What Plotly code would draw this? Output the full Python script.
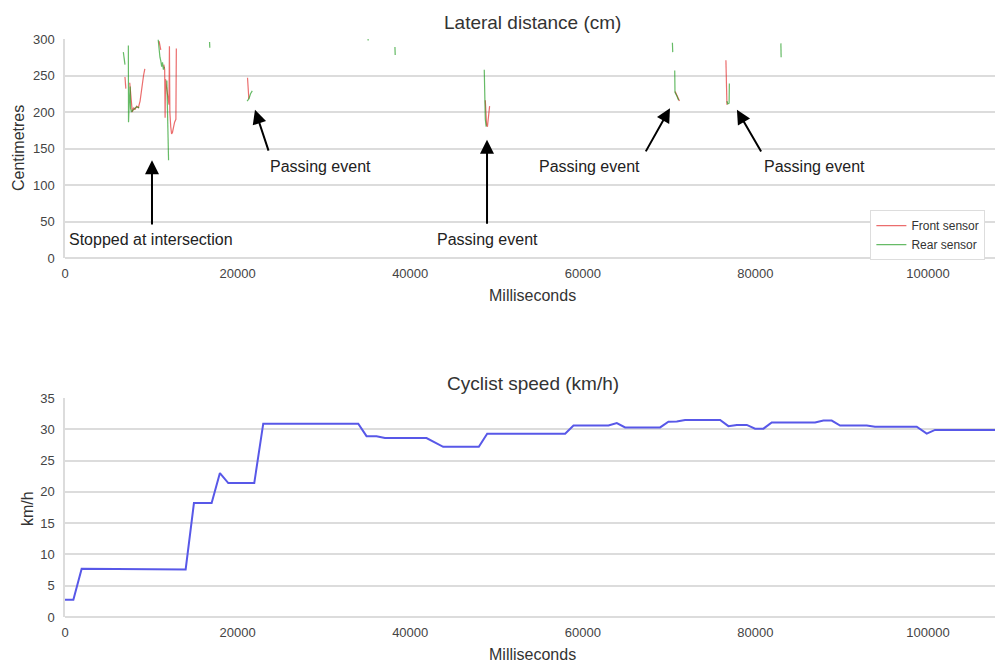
import plotly.graph_objects as go

# ---------------- data ----------------
# Lateral distance (cm) vs time (ms); None separates gaps between readings
front_ms = [6950, 7050, None,
            7500, 7650, 7800, 7950, 8100, 8300, 8500, 8700, 8900, 9100, 9250, None,
            10900, 11000, 11100, None,
            11450, 11550, 11600, 11650, 11750, 11900, 12050, 12100, 12150, 12250, 12350, 12450, 12550, 12700, 12850, 12900, None,
            21150, 21200, 21300, None,
            48700, 48850, 48950, 49100, 49200, None,
            70700, 71000, 71200, None,
            76580, 76620, 76700]
front_cm = [248, 232, None,
            240, 215, 200, 206, 203, 208, 206, 215, 235, 250, 259, None,
            297, 292, 285, None,
            265, 258, 192, 245, 235, 222, 210, 290, 200, 180, 170, 172, 178, 186, 190, 287, None,
            247, 228, 218, None,
            216, 182, 180, 205, 208, None,
            228, 220, 215, None,
            271, 211, 210]

rear_ms = [6760, 6950, None,
           7340, 7360, 7450, 7550, 7600, 7700, 7900, 8100, 8300, 8600, None,
           10800, 10900, 11000, 11100, 11200, 11300, 11400, 11500, None,
           11800, 11900, 12000, None,
           16750, 16780, None,
           21100, 21300, 21500, 21700, None,
           35100, 35150, None,
           38230, 38260, None,
           48580, 48620, 48700, 48800, None,
           70380, 70420, None,
           70650, 70680, 70900, 71100, None,
           76700, 76800, 76950, 76980, None,
           82950, 82980]
rear_cm = [282, 265, None,
           291, 186, 215, 235, 205, 200, 203, 205, 207, 206, None,
           299, 285, 275, 270, 262, 268, 258, 262, None,
           243, 190, 134, None,
           296, 288, None,
           215, 218, 225, 229, None,
           300, 298, None,
           289, 278, None,
           258, 215, 190, 180, None,
           295, 282, None,
           257, 227, 222, 216, None,
           215, 211, 212, 239, None,
           294, 275]

# Cyclist speed (km/h) vs time (ms)
speed_ms = [0, 970, 1930, 3860, 4830, 13980, 14940, 16990, 17950, 18920, 21930, 22970,
            33980, 34940, 36100, 37070, 41890, 43820, 47950, 48920, 57950, 58920,
            62970, 63940, 64900, 68960, 69920, 70890, 71850, 75910, 76870, 77840,
            79000, 79960, 80930, 81890, 86910, 87880, 88840, 89810, 92900, 93860,
            98690, 99850, 100810, 107760]
speed_kmh = [2.75, 2.75, 7.7, 7.7, 7.6, 7.6, 18.2, 18.2, 23.0, 21.4, 21.4, 30.9,
             30.9, 28.9, 28.9, 28.6, 28.6, 27.2, 27.2, 29.3, 29.3, 30.6,
             30.6, 31.0, 30.3, 30.3, 31.2, 31.25, 31.5, 31.5, 30.5, 30.7,
             30.7, 30.1, 30.1, 31.1, 31.1, 31.4, 31.4, 30.6, 30.6, 30.4,
             30.4, 29.3, 29.9, 29.9]

# annotations: (text, x_ms, y_cm)
labels = [("Stopped at intersection", 9965, 24.7),
          ("Passing event", 29550, 126),
          ("Passing event", 48900, 24.7),
          ("Passing event", 60830, 126),
          ("Passing event", 86790, 126)]
# arrows: (head_x, head_y, tail_x, tail_y)
arrows = [(10080, 134, 10080, 44),
          (22015, 203, 23640, 145),
          (48900, 162, 48900, 45),
          (70100, 205, 67200, 144),
          (77860, 203, 80760, 144)]

X_RANGE = [0, 107760]
FONT = "Liberation Sans, Arial, sans-serif"
TXT = "#333333"
GRID = "#dcdcdc"

fig = go.Figure()
fig.add_trace(go.Scatter(x=front_ms, y=front_cm, mode="lines", name="Front sensor",
                         line=dict(color="rgba(225,30,30,0.65)", width=1.2),
                         connectgaps=False, xaxis="x", yaxis="y"))
fig.add_trace(go.Scatter(x=rear_ms, y=rear_cm, mode="lines", name="Rear sensor",
                         line=dict(color="rgba(20,150,20,0.65)", width=1.2),
                         connectgaps=False, xaxis="x", yaxis="y"))
fig.add_trace(go.Scatter(x=speed_ms, y=speed_kmh, mode="lines", showlegend=False,
                         line=dict(color="#5858e8", width=2),
                         xaxis="x2", yaxis="y2"))

ann = []
for t, x, y in labels:
    ann.append(dict(text=t, x=x, y=y, xref="x", yref="y", showarrow=False,
                    font=dict(size=16, color="#222222", family=FONT)))
for hx, hy, tx, ty in arrows:
    ann.append(dict(text="", x=hx, y=hy, ax=tx, ay=ty, xref="x", yref="y",
                    axref="x", ayref="y", showarrow=True, arrowhead=2,
                    arrowsize=1.4, arrowwidth=2, arrowcolor="black"))

# titles and axis titles as paper annotations
def pa(text, x, y, size, angle=0):
    return dict(text=text, x=x, y=y, xref="paper", yref="paper", showarrow=False,
                xanchor="center", yanchor="middle", textangle=angle,
                font=dict(size=size, color=TXT, family=FONT))

ann += [pa("Lateral distance (cm)", 0.503, 1.0294, 19),
        pa("Cyclist speed (km/h)", 0.503, 0.4048, 19),
        pa("Milliseconds", 0.503, 0.5554, 16),
        pa("Milliseconds", 0.503, -0.0657, 16),
        pa("Centimetres", -0.0505, 0.8114, 16, -90),
        pa("km/h", -0.0398, 0.1886, 16, -90)]

xa = dict(range=X_RANGE, showgrid=False, zeroline=False, showline=False,
          tickvals=[0, 20000, 40000, 60000, 80000, 100000],
          ticktext=["0", "20000", "40000", "60000", "80000", "100000"],
          ticks="outside", ticklen=3, tickcolor="rgba(0,0,0,0)",
          tickfont=dict(size=13, color="#444444", family=FONT))
ya = dict(showgrid=True, gridcolor=GRID, gridwidth=1.5, zeroline=True,
          zerolinecolor=GRID, zerolinewidth=1.5, showline=True, linecolor=GRID,
          linewidth=1.5, ticks="outside", ticklen=6, tickcolor="rgba(0,0,0,0)",
          tickfont=dict(size=13, color="#444444", family=FONT))

fig.update_layout(
    width=995, height=664,
    margin=dict(l=65, r=0, t=39, b=47),
    paper_bgcolor="white", plot_bgcolor="white",
    font=dict(family=FONT, color=TXT),
    xaxis=dict(xa, domain=[0, 1], anchor="y"),
    yaxis=dict(ya, domain=[0.6211, 1], range=[0, 300], dtick=50, anchor="x"),
    xaxis2=dict(xa, domain=[0, 1], anchor="y2"),
    yaxis2=dict(ya, domain=[0, 0.3789], range=[0, 35], dtick=5, anchor="x2"),
    legend=dict(x=0.866, y=0.704, xanchor="left", yanchor="top",
                bgcolor="white", bordercolor="#dddddd", borderwidth=1,
                font=dict(size=12, color=TXT, family=FONT), tracegroupgap=0),
    annotations=ann,
)

# remove the page's default body margin so the figure fills the window exactly
fig.write_html("out.html",
               config={"displayModeBar": False},
               post_script="document.body.style.margin='0';"
                           "document.body.style.overflow='hidden';")
